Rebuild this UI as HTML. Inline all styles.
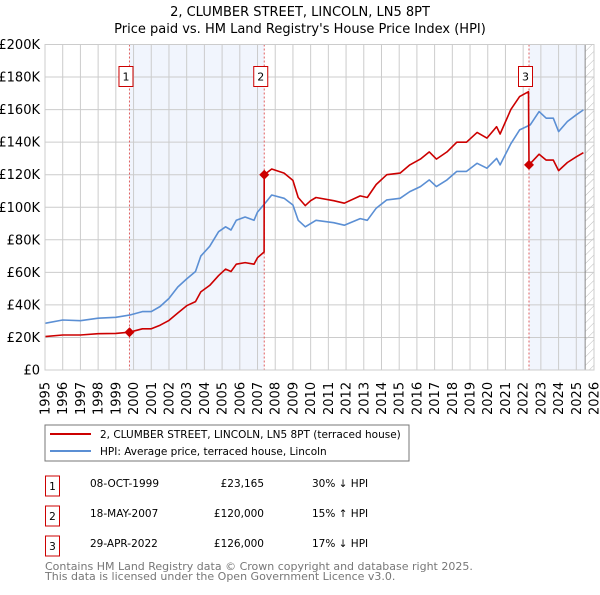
<!DOCTYPE html>
<html><head><meta charset="utf-8"><style>
body{margin:0;background:#fff;font-family:"Liberation Sans","DejaVu Sans",sans-serif;}
svg text{font-family:"DejaVu Sans","Liberation Sans",sans-serif;}
</style></head><body>
<svg id="c" width="600" height="590" viewBox="0 0 600 590" xmlns="http://www.w3.org/2000/svg">
<defs><pattern id="hatch" width="6" height="6" patternUnits="userSpaceOnUse" patternTransform="rotate(45)"><line x1="0" y1="0" x2="0" y2="6" stroke="#bbb" stroke-width="1"/></pattern></defs>
<text x="300" y="16" text-anchor="middle" font-size="13" fill="#000">2, CLUMBER STREET, LINCOLN, LN5 8PT</text>
<text x="300" y="33" text-anchor="middle" font-size="13" fill="#000">Price paid vs. HM Land Registry's House Price Index (HPI)</text>
<g id="plot"></g>
<g>
<rect x="45" y="425" width="364" height="36" fill="#fff" stroke="#777"/>
<line x1="50" y1="434" x2="91" y2="434" stroke="#cc0000" stroke-width="2"/>
<text x="100" y="438" font-size="10.5">2, CLUMBER STREET, LINCOLN, LN5 8PT (terraced house)</text>
<line x1="50" y1="451" x2="91" y2="451" stroke="#5b8fd4" stroke-width="2"/>
<text x="100" y="455" font-size="10.5">HPI: Average price, terraced house, Lincoln</text>
</g>
<g font-size="10.5">
<rect x="45.5" y="476" width="14" height="20" fill="#fff" stroke="#cc0000"/><text x="52.5" y="490" text-anchor="middle">1</text>
<text x="90" y="487">08-OCT-1999</text><text x="264" y="487" text-anchor="end">£23,165</text><text x="312" y="487">30% ↓ HPI</text>
<rect x="45.5" y="506" width="14" height="20" fill="#fff" stroke="#cc0000"/><text x="52.5" y="520" text-anchor="middle">2</text>
<text x="90" y="517">18-MAY-2007</text><text x="264" y="517" text-anchor="end">£120,000</text><text x="312" y="517">15% ↑ HPI</text>
<rect x="45.5" y="536" width="14" height="20" fill="#fff" stroke="#cc0000"/><text x="52.5" y="550" text-anchor="middle">3</text>
<text x="90" y="547">29-APR-2022</text><text x="264" y="547" text-anchor="end">£126,000</text><text x="312" y="547">17% ↓ HPI</text>
</g>
<text x="45" y="570" font-size="11" fill="#777">Contains HM Land Registry data © Crown copyright and database right 2025.</text>
<text x="45" y="580" font-size="11" fill="#777">This data is licensed under the Open Government Licence v3.0.</text>
</svg>
<script>
const hpiYears=[1995,1996,1997,1998,1999,1999.8,2000.5,2001,2001.5,2002,2002.5,2003,2003.5,2003.8,2004.3,2004.8,2005.2,2005.5,2005.8,2006.3,2006.8,2007,2007.5,2007.8,2008.5,2009,2009.3,2009.7,2010.3,2011.3,2011.9,2012.8,2013.2,2013.7,2014.3,2015.05,2015.6,2016.2,2016.7,2017.1,2017.7,2018.25,2018.8,2019.4,2019.95,2020.5,2020.7,2021.3,2021.8,2022.4,2022.9,2023.3,2023.7,2024.0,2024.5,2025.0,2025.4];
const hpiValues=[28.7,30.7,30.3,31.8,32.4,33.8,35.9,35.9,39,44,51,56,60.5,70,76,85,88,86,92,94,92,97,103.5,107.5,105.5,101.4,92,88,92,90.5,89,93,92,99.4,104.5,105.5,109.6,112.7,116.8,112.7,116.8,122,122,127,124,130,126,139,147.5,150.6,158.8,154.7,154.7,146.5,152.7,156.8,159.8];
const priceYears=[1995,1996,1997,1998,1999,1999.77,2000.5,2001,2001.5,2002,2002.5,2003,2003.5,2003.8,2004.3,2004.8,2005.2,2005.5,2005.8,2006.3,2006.8,2007,2007.37,2007.38,2007.8,2008.5,2009,2009.3,2009.7,2010.0,2010.3,2011.3,2011.9,2012.8,2013.2,2013.7,2014.3,2015.05,2015.6,2016.2,2016.7,2017.1,2017.7,2018.25,2018.8,2019.4,2019.95,2020.5,2020.7,2021.3,2021.8,2022.3,2022.33,2022.9,2023.3,2023.7,2024.0,2024.5,2025.0,2025.4];
const priceValues=[20.5,21.5,21.5,22.3,22.5,23.2,25.3,25.3,27.5,30.5,35,39.5,42,48,52,58,62,60.5,65,66,65,69,72.5,120,123.5,121,116.5,106,101,104,106,104,102.5,107,106,114,120,121,126,129.6,134,129.6,134,140,140,146,142.5,149.5,145,160,168,171,126,132.6,129,129,122.5,127.5,131,133.5];
const saleYears=[1999.77,2007.38,2022.33];
const saleValues=[23.165,120,126];
const saleLabels=["1","2","3"];
const yTicks=[0,20,40,60,80,100,120,140,160,180,200];
const yTickLabels=["£0","£20K","£40K","£60K","£80K","£100K","£120K","£140K","£160K","£180K","£200K"];
const xTicks=[1995,1996,1997,1998,1999,2000,2001,2002,2003,2004,2005,2006,2007,2008,2009,2010,2011,2012,2013,2014,2015,2016,2017,2018,2019,2020,2021,2022,2023,2024,2025,2026];

const NS="http://www.w3.org/2000/svg";
const X0=45,X1=594,Y0=370,Y1=44.5;
const xs=y=>X0+(y-1995)/(2026-1995)*(X1-X0);
const ys=v=>Y0-v/200*(Y0-Y1);
const g=document.getElementById('plot');
function mk(t,a){const e=document.createElementNS(NS,t);for(const k in a)e.setAttribute(k,a[k]);g.appendChild(e);return e;}

let e;
e=mk('rect',{x:xs(saleYears[0]),y:Y1,width:xs(saleYears[1])-xs(saleYears[0]),height:Y0-Y1,fill:'#eef3fc',opacity:0.8});


e=mk('rect',{x:xs(saleYears[2]),y:Y1,width:xs(2025.5)-xs(saleYears[2]),height:Y0-Y1,fill:'#eef3fc',opacity:0.8});


e=mk('rect',{x:xs(2025.5),y:Y1,width:X1-xs(2025.5),height:Y0-Y1,fill:'url(#hatch)'});



yTicks.forEach((t,i)=>{
 e=mk('line',{x1:X0,x2:X1,y1:ys(t),y2:ys(t),stroke:'#ccc','stroke-width':1});
 
 
 e=mk('text',{x:40,y:ys(t)+4.5,'text-anchor':'end','font-size':13});
 e.textContent=yTickLabels[i];
 
 
});
xTicks.forEach(t=>{
 e=mk('line',{x1:xs(t),x2:xs(t),y1:Y1,y2:Y0,stroke:'#ccc','stroke-width':1});
 
 
 e=mk('text',{x:0,y:0,'font-size':13,transform:`translate(${xs(t)+4.5},415) rotate(-90)`});
 e.textContent=String(t);
 
 
});
e=mk('line',{x1:xs(2025.5),x2:xs(2025.5),y1:Y1,y2:Y0,stroke:'#888','stroke-width':1});



saleYears.forEach((s,i)=>{
 e=mk('line',{x1:xs(s),x2:xs(s),y1:Y1,y2:Y0,stroke:'#e06060','stroke-width':1,'stroke-dasharray':'2,2'});
 
 
});

function path(xa,va,col){
 const d=xa.map((x,i)=>(i?'L':'M')+xs(x).toFixed(1)+','+ys(va[i]).toFixed(1)).join(' ');
 return mk('path',{d:d,fill:'none',stroke:col,'stroke-width':1.6,'stroke-linejoin':'round'});
}
e=path(hpiYears,hpiValues,'#5b8fd4');


e=path(priceYears,priceValues,'#cc0000');



saleYears.forEach((s,i)=>{
 const cx=xs(s),cy=ys(saleValues[i]);
 e=mk('path',{d:`M${cx},${cy-5} L${cx+5},${cy} L${cx},${cy+5} L${cx-5},${cy} Z`,fill:'#cc0000'});
 
 
 e=mk('rect',{x:cx-10.5,y:66.5,width:14,height:20,fill:'#fff',stroke:'#cc0000'});
 
 
 e=mk('text',{x:cx-3.5,y:80.5,'text-anchor':'middle','font-size':11});
 e.textContent=saleLabels[i];
 
 
});
e=mk('rect',{x:X0,y:Y1,width:X1-X0,height:Y0-Y1,fill:'none',stroke:'#ccc'});


</script>
</body></html>
